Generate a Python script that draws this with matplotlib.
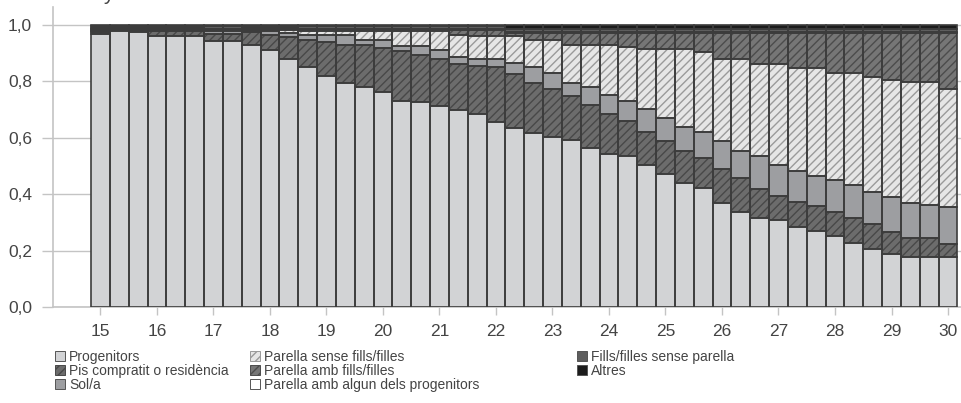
import numpy as np
import matplotlib
matplotlib.use("Agg")
import matplotlib.pyplot as plt
import matplotlib.patches as mpatches

plt.rcParams["font.family"] = ["Liberation Sans", "DejaVu Sans"]
plt.rcParams["hatch.linewidth"] = 1.0

# age in years, one bar every 4 months
ages = [15 + i / 3 for i in range(46)]
year_ticks = list(range(15, 31))

progenitors = [.970, .980, .974, .960, .960, .960, .944, .944, .929, .912,
               .880, .850, .821, .795, .781, .761, .731, .728, .712, .697,
               .683, .657, .636, .617, .602, .593, .564, .543, .535, .503,
               .472, .440, .422, .369, .337, .316, .308, .283, .271, .251,
               .227, .207, .189, .176, .176, .176]
pis_compartit = [.004, .002, .004, .020, .020, .020, .026, .026, .045, .051,
                 .076, .098, .119, .133, .149, .157, .176, .167, .167, .166,
                 .170, .195, .190, .176, .170, .157, .154, .140, .125, .119,
                 .115, .115, .108, .121, .120, .104, .087, .089, .088, .087,
                 .090, .086, .078, .068, .068, .049]
sol = [.004, .002, .004, .002, .002, .002, .009, .009, .004, .015,
       .016, .015, .023, .035, .018, .030, .020, .032, .033, .023,
       .027, .026, .038, .057, .058, .045, .063, .070, .071, .080,
       .082, .085, .091, .099, .097, .117, .109, .111, .104, .111,
       .116, .116, .124, .126, .119, .131]
parella_sense = [.006, .004, .004, .004, .004, .004, .002, .002, .006, .005,
                 .011, .017, .017, .017, .032, .032, .053, .053, .068, .080,
                 .080, .084, .098, .098, .118, .135, .149, .177, .191, .212,
                 .245, .274, .282, .290, .325, .326, .359, .366, .386, .381,
                 .397, .405, .414, .429, .436, .416]
parella_amb = [.002, .002, .002, .002, .002, .002, .004, .004, .003, .003,
               .004, .005, .005, .005, .005, .005, .005, .005, .005, .017,
               .023, .021, .010, .024, .024, .042, .042, .042, .050, .058,
               .058, .058, .069, .093, .093, .109, .109, .123, .123, .142,
               .142, .158, .167, .173, .173, .200]
parella_progenitors = [.002, .002, .002, .002, .002, .002, .002, .002, .002, .002,
                       .002, .002, .002, .002, .002, .002, .002, .002, .002, .002,
                       .002, .002, .002, .002, .002, .002, .002, .002, .002, .002,
                       .002, .002, .002, .002, .002, .002, .002, .002, .002, .002,
                       .002, .002, .002, .002, .002, .002]
fills_sense = [.008, .005, .006, .006, .006, .006, .008, .008, .007, .008,
               .007, .009, .009, .009, .009, .009, .009, .009, .009, .010,
               .010, .010, .012, .012, .012, .012, .012, .012, .012, .012,
               .012, .012, .012, .012, .012, .012, .012, .012, .012, .012,
               .012, .012, .012, .012, .012, .012]
altres = [.004, .003, .004, .004, .004, .004, .005, .005, .004, .004,
          .004, .004, .004, .004, .004, .004, .004, .004, .004, .005,
          .005, .005, .014, .014, .014, .014, .014, .014, .014, .014,
          .014, .014, .014, .014, .014, .014, .014, .014, .014, .014,
          .014, .014, .014, .014, .014, .014]

# (label, values, face, hatch colour, hatch)
layers = [
    ("Progenitors", progenitors, "#d2d3d5", "#d2d3d5", None),
    ("Pis compratit o residència", pis_compartit, "#6c6c6c", "#484848", "////"),
    ("Sol/a", sol, "#9d9ea1", "#9d9ea1", None),
    ("Parella sense fills/filles", parella_sense, "#e6e6e6", "#9a9a9a", "////"),
    ("Parella amb fills/filles", parella_amb, "#767676", "#4c4c4c", "////"),
    ("Parella amb algun dels progenitors", parella_progenitors, "#ffffff", "#ffffff", None),
    ("Fills/filles sense parella", fills_sense, "#5e5e5e", "#5e5e5e", None),
    ("Altres", altres, "#1c1c1c", "#1c1c1c", None),
]

txt = "#444444"
axc = "#c4c4c4"
edge = "#3c3c3c"

fig = plt.figure(figsize=(9.61, 4.03), dpi=100)
ax = fig.add_axes([53 / 961, 1 - 307 / 403, 1 - 53 / 961, 300 / 403])

x = np.array(ages)
w = 1 / 3
bottom = np.zeros(len(ages))
handles = []
for label, vals, face, hcol, hatch in layers:
    vals = np.array(vals)
    ax.bar(x, vals, w, bottom=bottom, color=face, edgecolor=hcol,
           hatch=hatch, linewidth=0, zorder=2)
    ax.bar(x, vals, w, bottom=bottom, fill=False, edgecolor=edge,
           linewidth=1.2, zorder=3)
    bottom += vals
    handles.append(mpatches.Patch(facecolor=face,
                                  edgecolor=hcol if hatch else "#555555",
                                  hatch=hatch, linewidth=0.7, label=label))

ax.set_xlim(14.16, 30.23)
ax.set_ylim(0, 1.064)
ax.set_yticks([0, .2, .4, .6, .8, 1.0])
ax.set_yticklabels(["0,0", "0,2", "0,4", "0,6", "0,8", "1,0"])
ax.set_xticks(year_ticks)
ax.set_xticklabels([str(t) for t in year_ticks])
ax.yaxis.grid(True, color=axc, lw=1, zorder=0)
ax.set_axisbelow(True)
for s in ("top", "right"):
    ax.spines[s].set_visible(False)
for s in ("left", "bottom"):
    ax.spines[s].set_color(axc)
    ax.spines[s].set_linewidth(1.2)
ax.tick_params(axis="y", length=8, width=1, color=axc, pad=7,
               labelsize=12.5, labelcolor=txt)
ax.tick_params(axis="x", length=6, width=1, color=axc, pad=6,
               labelsize=12.5, labelcolor=txt)

# clipped heading above the canvas (only its descender shows)
fig.text(0.107, 1.0, "y", fontsize=15, color=txt, va="baseline")

cols = [(handles[0:3], 55), (handles[3:6], 250), (handles[6:8], 577)]
for hs, px in cols:
    fig.legend(handles=hs, loc="upper left",
               bbox_to_anchor=(px / 961, 1 - 350 / 403),
               frameon=False, fontsize=10, borderpad=0, borderaxespad=0,
               handlelength=0.75, handleheight=0.75, handletextpad=0.25,
               labelspacing=0.0, labelcolor=txt)

fig.savefig("out.png", dpi=100)
